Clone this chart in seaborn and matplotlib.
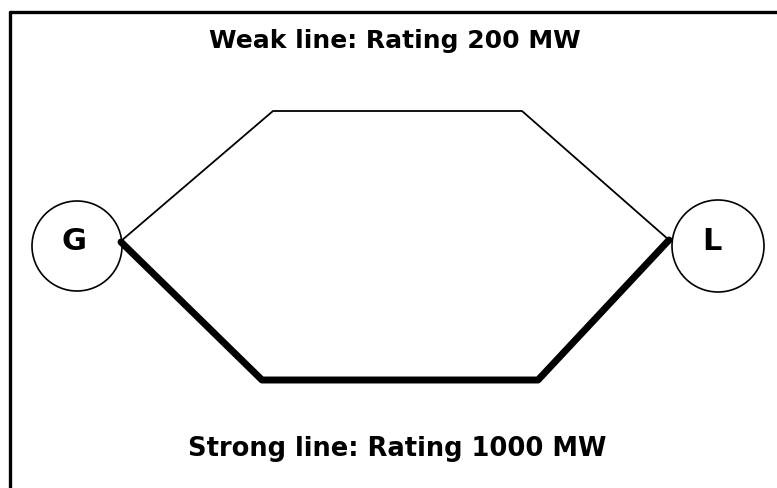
import matplotlib.pyplot as plt
from matplotlib.patches import Circle
import numpy as np
import pandas as pd
import seaborn as sns

# Knoten (Pixel-Koordinaten der Vorlage)
node_labels = ["G", "L"]
node_x = [77, 718]
node_y = [247, 247]
node_r = [45, 46]

# Schwache Leitung (oben) und starke Leitung (unten)
weak_x = [121, 273, 522, 669]
weak_y = [242, 112, 112, 241]
strong_x = [121, 262, 538, 669]
strong_y = [243, 381, 381, 241]

weak_label = "Weak line: Rating 200 MW"
strong_label = "Strong line: Rating 1000 MW"

sns.set_style("white")
plt.rcParams['font.family'] = ['DejaVu Sans']

fig = plt.figure(figsize=(7.77, 4.89), dpi=100)
ax = fig.add_axes([0, 0, 1, 1])

weak = pd.DataFrame({"x": weak_x, "y": weak_y})
strong = pd.DataFrame({"x": strong_x, "y": strong_y})

# Knoten zuerst, damit die Leitungen darueber liegen
for lab, cx, cy, r in zip(node_labels, node_x, node_y, node_r):
    ax.add_patch(Circle((cx, cy), r, facecolor="white", edgecolor="black", linewidth=1.2, zorder=1))
    ax.text(cx - 3 if lab == "G" else cx - 6, cy - 6, lab, ha="center", va="center",
            fontsize=22, fontweight="heavy", color="black", zorder=3)

sns.lineplot(data=weak, x="x", y="y", sort=False, estimator=None, color="black",
             linewidth=1.3, ax=ax, zorder=2)
sns.lineplot(data=strong, x="x", y="y", sort=False, estimator=None, color="black",
             linewidth=5.0, ax=ax, zorder=2, solid_capstyle="round")

# Rahmen links und oben
ax.axvline(10, ymin=0, ymax=1 - 13 / 489, color="black", linewidth=2.4)
ax.axhline(13, xmin=10 / 777, xmax=1, color="black", linewidth=2.4)

ax.text(395, 48, weak_label, ha="center", va="baseline", fontsize=18,
        fontweight="heavy", color="black")
ax.text(397, 456, strong_label, ha="center", va="baseline", fontsize=18.5,
        fontweight="heavy", color="black")

ax.set_xlim(0, 777)
ax.set_ylim(489, 0)
ax.set_aspect("auto")
ax.axis("off")

fig.savefig("out.png", dpi=100)
